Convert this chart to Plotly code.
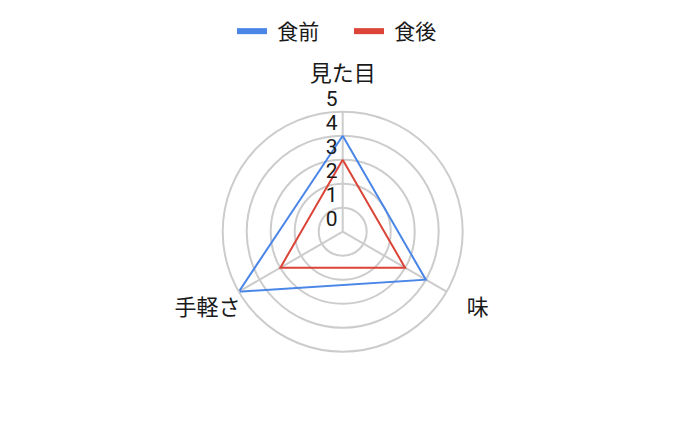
import plotly.graph_objects as go

# radar chart: before / after meal
categories = ["見た目", "味", "手軽さ"]
before_meal = [4, 4, 5]
after_meal = [3, 3, 3]
radial_ticks = [0, 1, 2, 3, 4, 5]

series = [
    ("食前", before_meal, "#4a86e8"),
    ("食後", after_meal, "#db4437"),
]

FONT = "Roboto, 'Noto Sans CJK JP', sans-serif"
R_MAX = 5
LABEL_R = 6.5   # where the category names sit, in data units
OUTER_R = 7     # range of the invisible label layer

fig = go.Figure()

for name, values, color in series:
    # close the polygon
    fig.add_trace(go.Scatterpolar(
        r=values + values[:1],
        theta=categories + categories[:1],
        mode="lines",
        line=dict(color=color, width=2),
        name=name,
        legendgroup=name,
        showlegend=False,
        hoverinfo="skip",
    ))
    # thick legend swatch
    fig.add_trace(go.Scatterpolar(
        r=[None],
        theta=[None],
        mode="lines",
        line=dict(color=color, width=6),
        name="\u00a0" + name,
        legendgroup=name,
        showlegend=True,
    ))

# radial tick labels drawn along the top axis
fig.add_trace(go.Scatterpolar(
    r=radial_ticks,
    theta=[categories[0]] * len(radial_ticks),
    mode="text",
    text=[str(t) + "\u00a0" for t in radial_ticks],
    textposition="top left",
    textfont=dict(size=21, color="#1a1a1a", family=FONT),
    showlegend=False,
    hoverinfo="skip",
))

# category labels on a second, bigger, invisible polar layer
fig.add_trace(go.Scatterpolar(
    r=[LABEL_R] * len(categories),
    theta=categories,
    mode="text",
    text=categories,
    textposition="middle center",
    textfont=dict(size=22, color="#1a1a1a", family=FONT),
    subplot="polar2",
    showlegend=False,
    hoverinfo="skip",
))

# page body adds 8px, so shift the target centre back
cx, cy, rad = 334.7, 223.7, 120
W, H = 682, 423
rad2 = rad * OUTER_R / R_MAX


def dom(r):
    return dict(
        x=[(cx - r) / W, (cx + r) / W],
        y=[(H - cy - r) / H, (H - cy + r) / H],
    )


fig.update_layout(
    width=W,
    height=H,
    margin=dict(l=0, r=0, t=0, b=0),
    paper_bgcolor="white",
    plot_bgcolor="white",
    font=dict(family=FONT, size=21, color="#1a1a1a"),
    showlegend=True,
    legend=dict(
        orientation="h",
        x=0.5,
        xanchor="center",
        y=1 - 3 / H,
        yanchor="top",
        font=dict(size=21, color="#1a1a1a"),
        entrywidth=72,
    ),
    polar=dict(
        domain=dom(rad),
        bgcolor="white",
        radialaxis=dict(
            range=[0, R_MAX],
            tickvals=radial_ticks[1:],
            showticklabels=False,
            ticks="",
            showline=False,
            gridcolor="#cccccc",
            gridwidth=2,
        ),
        angularaxis=dict(
            rotation=90,
            direction="clockwise",
            gridcolor="#cccccc",
            gridwidth=2,
            linecolor="#cccccc",
            linewidth=2,
            ticks="",
            showticklabels=False,
        ),
    ),
    polar2=dict(
        domain=dom(rad2),
        bgcolor="rgba(0,0,0,0)",
        radialaxis=dict(range=[0, OUTER_R], visible=False),
        angularaxis=dict(
            rotation=90,
            direction="clockwise",
            categoryorder="array",
            categoryarray=categories,
            visible=False,
        ),
    ),
)

fig.write_html("out.html")
